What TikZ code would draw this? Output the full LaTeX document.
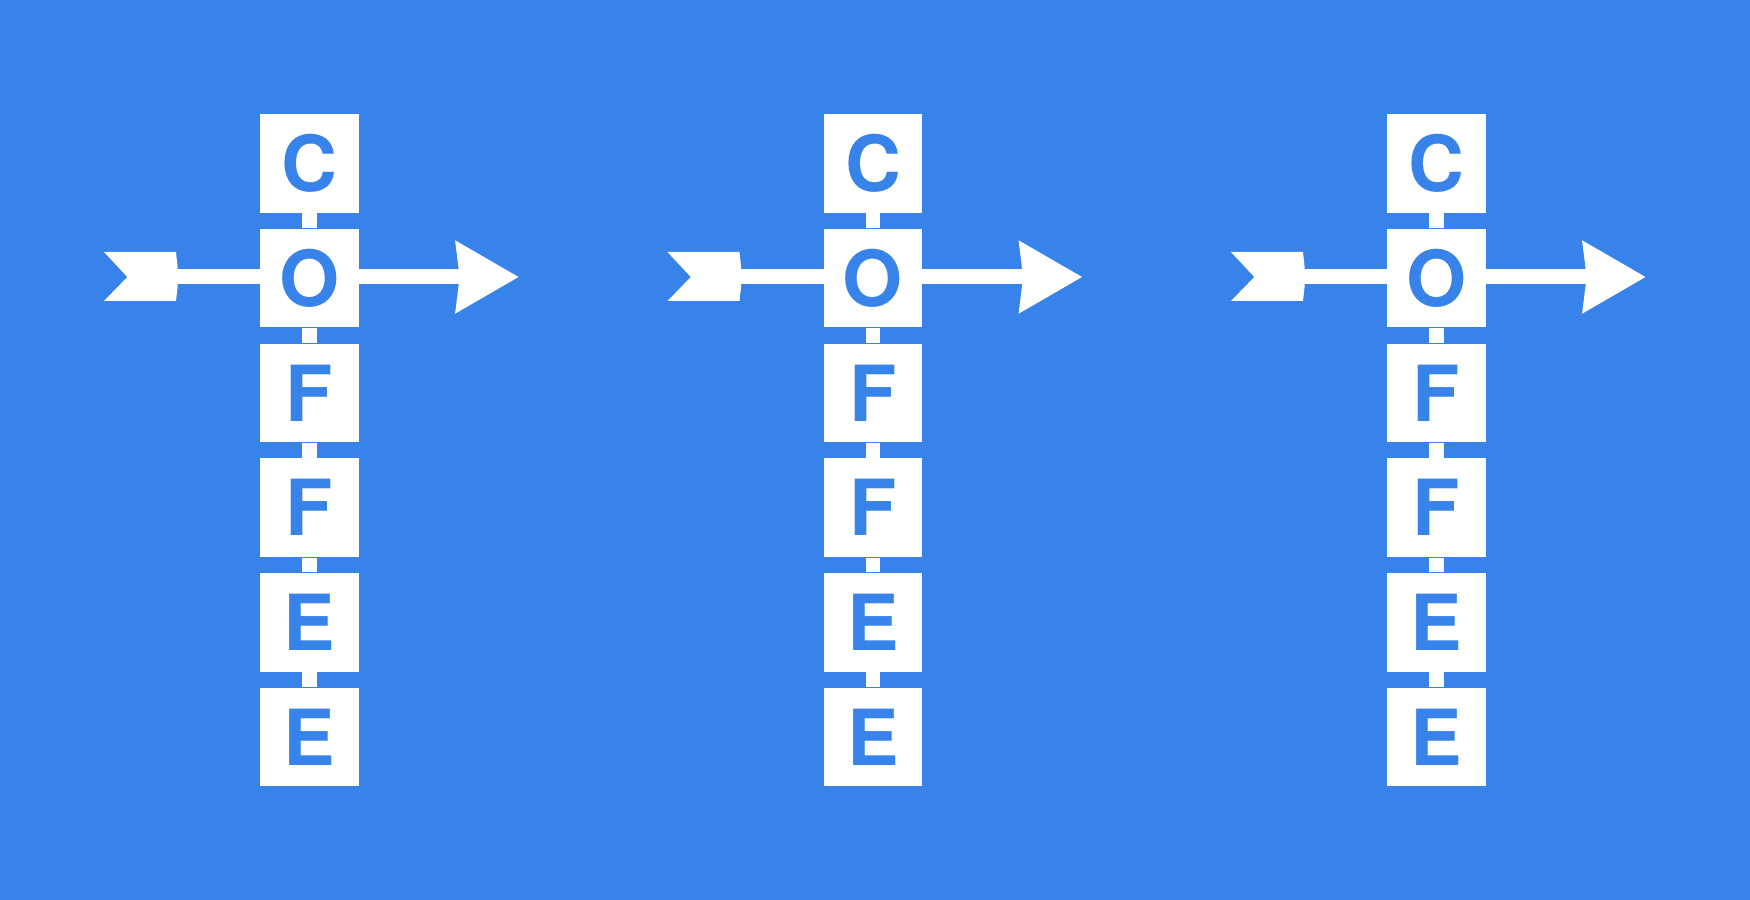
\documentclass[tikz,border=0pt]{standalone}
\usepackage{fontspec}
\newfontfamily\tilefont{TeX Gyre Heros}
\usetikzlibrary{arrows.meta}
\definecolor{Sky}{HTML}{3783E9}

\begin{document}
\begin{tikzpicture}[x=0.1mm,y=-0.1mm,
  tile/.style={fill=white,minimum size=9.84mm,inner sep=0pt,text=Sky,font=\fontsize{22}{22}\tilefont\bfseries},
  link/.style={white,line width=1.47mm},
  shaft/.style={white,line width=1.5mm,-{Stealth[length=6.23mm,width=6.9mm,inset=0.3mm]}}]
  \fill[Sky] (0,0) rectangle (1750,900);
  \foreach \col in {0,1,2} {
    \pgfmathsetmacro\cx{309.5+563.5*\col}
    % arrow through the O tile
    \coordinate (tail\col) at (\cx-133.5,277);
    \coordinate (tip\col) at (\cx+209.5,277);
    \fill[white] (\cx-205.5,252) -- (\cx-133.5,252) -- (\cx-131.8,268) -- (\cx-131.8,286) -- (\cx-133.5,301) -- (\cx-205.5,301) -- (\cx-182.2,277) -- cycle;
    \draw[shaft] (tail\col) -- (tip\col);
    % the word, one tile per letter
    \foreach \ch [count=\i] in {C,O,F,F,E,E}
      \node[tile] (k\col\i) at (\cx,{163.5+114.7*(\i-1)}) {\ch};
    \foreach \i in {1,...,5} {
      \pgfmathtruncatemacro\j{\i+1}
      \draw[link] (k\col\i.south) -- (k\col\j.north);
    }
  }
\end{tikzpicture}
\end{document}
